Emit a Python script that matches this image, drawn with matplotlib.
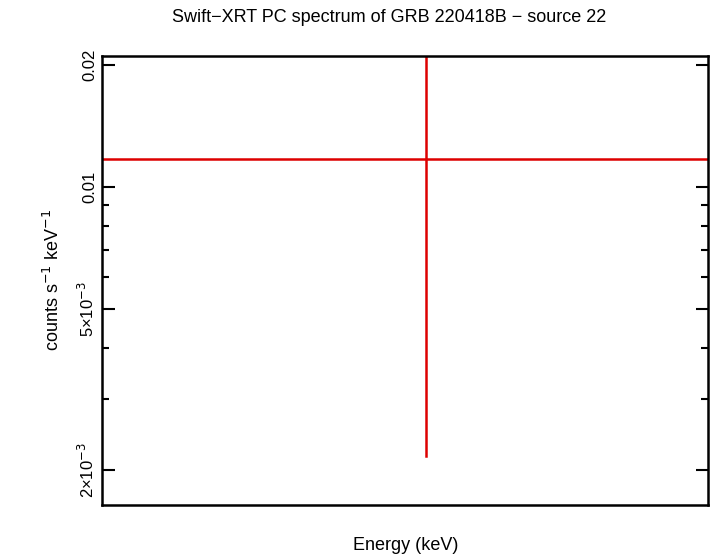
import matplotlib
matplotlib.use("Agg")
import matplotlib.pyplot as plt
import numpy as np
from matplotlib.ticker import FixedLocator, LogLocator, NullFormatter, NullLocator

plt.rcParams["font.family"] = "Liberation Sans"

energy = [1.35]
energy_lo = [0.01]
energy_hi = [1000.0]
rate = [0.01173]
rate_lo = [0.002166]
rate_hi = [0.03]
ytick_vals = [2e-3, 5e-3, 0.01, 0.02]
ytick_labels = ["2×10$^{-3}$", "5×10$^{-3}$", "0.01", "0.02"]

fig = plt.figure(figsize=(7.1, 5.56), dpi=100)
ax = fig.add_axes([102/710, 1-505/556, 606/710, 449/556])
ax.set_xscale("log")
ax.set_yscale("log")
for e, elo, ehi, r, rlo, rhi in zip(energy, energy_lo, energy_hi, rate, rate_lo, rate_hi):
    ax.plot([e, e], [rlo, rhi], color="#dd0000", lw=1.8)
    ax.plot([elo, ehi], [r, r], color="#dd0000", lw=1.8)
ax.set_xlim(0.3, 5.0)
ax.set_ylim(0.00164, 0.02104)

ax.yaxis.set_major_locator(FixedLocator(ytick_vals))
ax.set_yticklabels(ytick_labels, rotation=90, va="center", fontsize=12)
ax.yaxis.set_minor_locator(LogLocator(base=10, subs=np.arange(2, 10)))
ax.yaxis.set_minor_formatter(NullFormatter())
ax.xaxis.set_major_locator(NullLocator())
ax.xaxis.set_minor_locator(NullLocator())
ax.tick_params(axis="y", which="both", direction="in", right=True, width=1.5)
ax.tick_params(axis="y", which="major", length=9)
ax.tick_params(axis="y", which="minor", length=5)
for s in ax.spines.values():
    s.set_linewidth(1.8)
fig.text(406/710, 1-545/556, "Energy (keV)", fontsize=13, ha="center", va="center")
ax.set_ylabel("counts s$^{-1}$ keV$^{-1}$", fontsize=13, labelpad=10)
fig.text(389/710, 1-18/556, "Swift\u2212XRT PC spectrum of GRB 220418B \u2212 source 22",
         fontsize=13, ha="center", va="center")
fig.savefig("out.png", dpi=100)
